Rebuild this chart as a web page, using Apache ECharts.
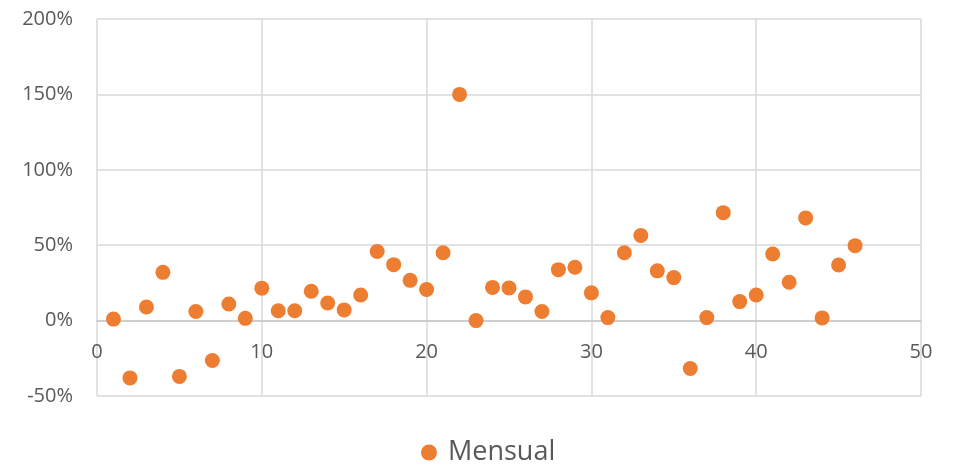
<!DOCTYPE html>
<html>
<head>
<meta charset="utf-8">
<script src="https://cdn.jsdelivr.net/npm/echarts@6/dist/echarts.min.js"></script>
<style>html,body{margin:0;padding:0;background:#fff}#c{width:953px;height:468px}</style>
</head>
<body>
<div id="c"></div>
<script>
const seriesName = 'Mensual';
const xValues = [1,2,3,4,5,6,7,8,9,10,11,12,13,14,15,16,17,18,19,20,21,22,23,24,25,26,27,28,29,30,31,32,33,34,35,36,37,38,39,40,41,42,43,44,45,46];
const yValues = [0.01,-0.38,0.09,0.32,-0.37,0.06,-0.265,0.11,0.015,0.215,0.065,0.065,0.195,0.117,0.071,0.17,0.458,0.371,0.267,0.206,0.45,1.50,0.0,0.22,0.217,0.157,0.06,0.338,0.354,0.184,0.02,0.45,0.564,0.33,0.285,-0.318,0.02,0.716,0.126,0.17,0.442,0.254,0.681,0.018,0.369,0.497];
const xTicks = {min:0, max:50, interval:10};
const yTicks = {min:-0.5, max:2, interval:0.5};

const data = xValues.map((x,i)=>[x, yValues[i]]);
const gridTop = 19, gridBottom = 72, H = 468;
const plotH = H - gridTop - gridBottom;
const zeroOffset = -plotH * (0 - yTicks.min) / (yTicks.max - yTicks.min);
const chart = echarts.init(document.getElementById('c'), null, {renderer:'canvas'});
const font = '"Open Sans", Carlito, sans-serif';
chart.setOption({
  animation:false,
  textStyle:{fontFamily:font},
  grid:{left:97, right:32, top:gridTop, bottom:gridBottom, containLabel:false},
  legend:{
    top:434, left:416, itemWidth:16, itemHeight:16, itemGap:10,
    data:[{name:seriesName, icon:'circle'}],
    textStyle:{fontSize:27, color:'#595959', fontFamily:font, padding:[0,0,0,6]}
  },
  xAxis:{
    type:'value', min:xTicks.min, max:xTicks.max, interval:xTicks.interval,
    offset: zeroOffset,
    axisLine:{show:true, onZero:false, lineStyle:{color:'#c8c8c8', width:1.5}},
    axisTick:{show:false},
    axisLabel:{color:'#595959', fontSize:20, margin:22, fontFamily:font},
    splitLine:{show:true, lineStyle:{color:'#d9d9d9', width:1.5}}
  },
  yAxis:{
    type:'value', min:yTicks.min, max:yTicks.max, interval:yTicks.interval,
    axisLine:{show:false},
    axisTick:{show:false},
    axisLabel:{color:'#595959', fontSize:20, margin:24, fontFamily:font,
      formatter:v=>Math.round(v*100)+'%'},
    splitLine:{show:true, lineStyle:{color:'#d9d9d9', width:1.5}}
  },
  series:[{
    name:seriesName, type:'scatter', data:data, symbolSize:15,
    itemStyle:{color:'#ED7D31', opacity:1}
  }]
});
</script>
</body>
</html>
